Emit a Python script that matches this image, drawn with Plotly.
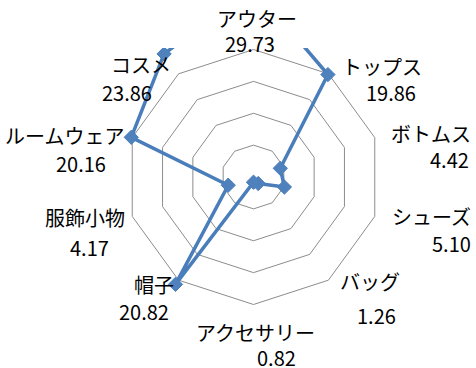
import plotly.graph_objects as go

# ---- data ----
categories = ["アウター", "トップス", "ボトムス", "シューズ", "バッグ",
              "アクセサリー", "帽子", "服飾小物", "ルームウェア", "コスメ"]
values = [29.73, 19.86, 4.42, 5.10, 1.26, 0.82, 20.82, 4.17, 20.16, 23.86]
ring_ticks = [5, 10, 15, 20]

# ---- layout constants (pixels) ----
W, H = 476, 368
CX, CY = 253.5, 177.0       # centre of radar
PX_PER_UNIT = 6.375         # outer ring (20) radius ~127.5 px
R_PX = 177.0                # radius of polar domain in px
R_MAX = R_PX / PX_PER_UNIT

# label centres (px): (name_x, name_y, value_x, value_y)
label_pos = [
    (257, 18, 250, 43),
    (382, 66, 391, 92),
    (431, 133, 449, 160),
    (431, 216, 451, 244),
    (370, 281, 376, 315),
    (255, 332, 276, 357),
    (154, 284, 144, 311),
    (85, 217, 89, 247),
    (64, 135, 81, 163),
    (141, 65, 127, 92),
]

BLUE_LINE = "#4A7EBB"
BLUE_FILL = "#4F81BD"
FONT = "Noto Sans CJK JP"
FONT_SIZE = 20

theta = categories + categories[:1]
r = values + values[:1]

fig = go.Figure()
fig.add_trace(go.Scatterpolar(
    r=r, theta=theta, mode="lines+markers",
    line=dict(color=BLUE_LINE, width=3.5),
    marker=dict(symbol="diamond", size=11, color=BLUE_FILL,
                line=dict(color=BLUE_LINE, width=1)),
    cliponaxis=False,
    showlegend=False,
))

def px_x(x):
    return x / W

def px_y(y):
    return 1 - y / H

fig.update_layout(
    width=W, height=H,
    margin=dict(l=0, r=0, t=0, b=0),
    paper_bgcolor="white",
    polar=dict(
        domain=dict(x=[px_x(CX - R_PX), px_x(CX + R_PX)],
                    y=[px_y(CY + R_PX), px_y(CY - R_PX)]),
        bgcolor="white",
        gridshape="linear",
        radialaxis=dict(range=[0, R_MAX], tickvals=ring_ticks,
                        showticklabels=False, ticks="", showline=False,
                        showgrid=True, gridcolor="#8C8C8C", gridwidth=1),
        angularaxis=dict(type="category", categoryarray=categories,
                         rotation=90, direction="clockwise",
                         showgrid=False, showline=False,
                         showticklabels=False, ticks=""),
    ),
    shapes=[dict(type="rect", xref="paper", yref="paper",
                 x0=0, x1=1, y0=px_y(48), y1=1,
                 fillcolor="white", line=dict(width=0), layer="above")],
)

annotations = []
for cat, val, (nx, ny, vx, vy) in zip(categories, values, label_pos):
    annotations.append(dict(text=cat, x=px_x(nx), y=px_y(ny),
                            xref="paper", yref="paper",
                            xanchor="center", yanchor="middle",
                            showarrow=False, borderpad=0,
                            font=dict(family=FONT, size=FONT_SIZE, color="black")))
    annotations.append(dict(text=f"{val:.2f}", x=px_x(vx), y=px_y(vy),
                            xref="paper", yref="paper",
                            xanchor="center", yanchor="middle",
                            showarrow=False, borderpad=0,
                            font=dict(family=FONT, size=FONT_SIZE, color="black")))
fig.update_layout(annotations=annotations)

fig.write_html("out.html",
               config={"displayModeBar": False},
               post_script="document.body.style.margin='0';"
                           "document.body.style.overflow='hidden';")
